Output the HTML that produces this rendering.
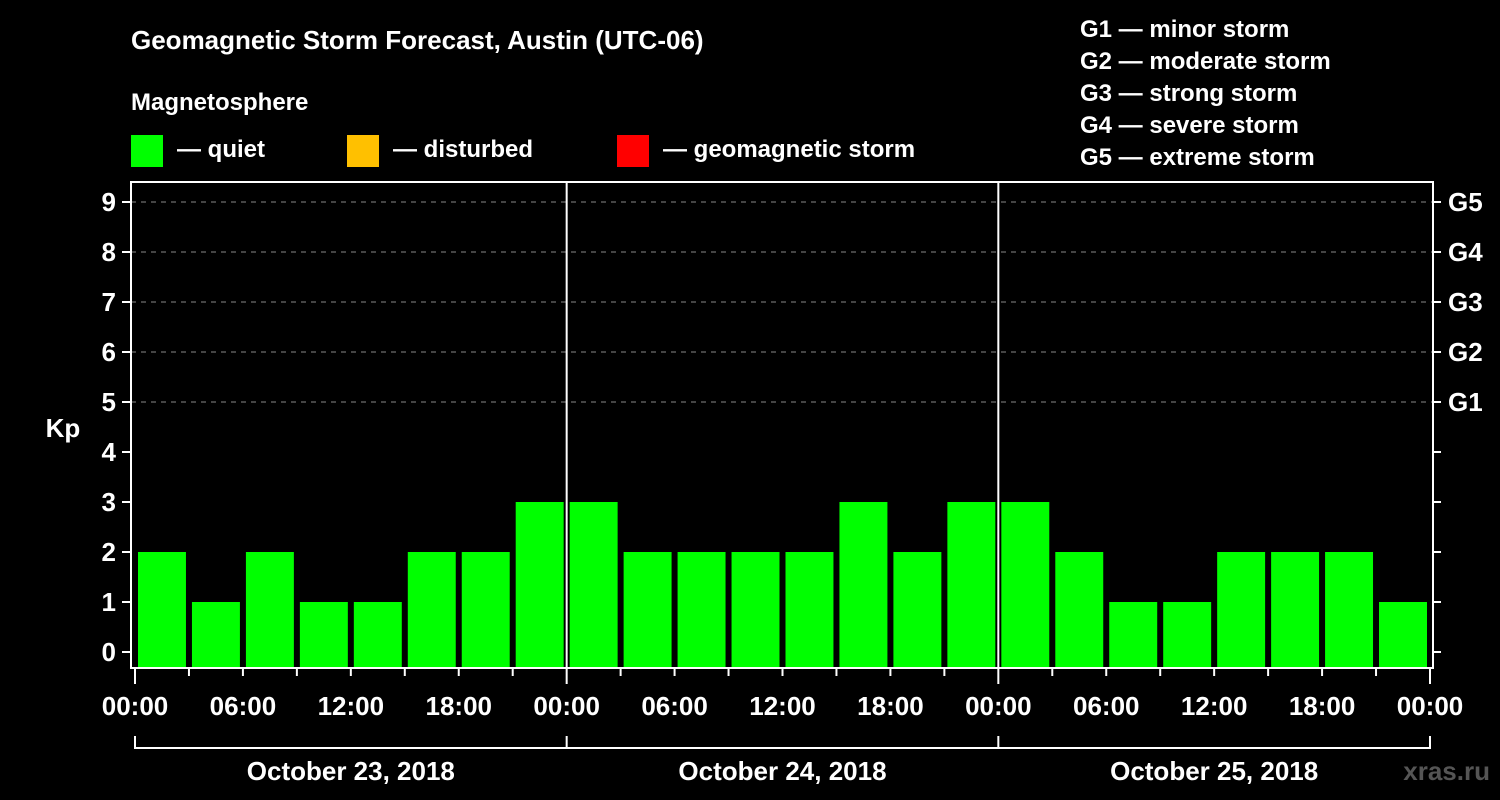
<!DOCTYPE html>
<html><head><meta charset="utf-8"><style>
body{margin:0;background:#000;width:1500px;height:800px;overflow:hidden}
svg{display:block;font-family:"Liberation Sans",Arial,sans-serif;font-weight:bold}
</style></head><body>
<svg id="c" width="1500" height="800" viewBox="0 0 1500 800">
<text x="131" y="49" fill="#fff" font-size="26">Geomagnetic Storm Forecast, Austin (UTC-06)</text>
<text x="131" y="110" fill="#fff" font-size="24">Magnetosphere</text>
<g><rect x="131" y="135" width="32" height="32" fill="#00ff00"/><text x="177" y="157" fill="#fff" font-size="24">— quiet</text></g>
<g><rect x="347" y="135" width="32" height="32" fill="#ffc000"/><text x="393" y="157" fill="#fff" font-size="24">— disturbed</text></g>
<g><rect x="617" y="135" width="32" height="32" fill="#ff0000"/><text x="663" y="157" fill="#fff" font-size="24">— geomagnetic storm</text></g>
<g fill="#fff" font-size="24">
<text x="1080" y="37">G1 — minor storm</text>
<text x="1080" y="69">G2 — moderate storm</text>
<text x="1080" y="101">G3 — strong storm</text>
<text x="1080" y="133">G4 — severe storm</text>
<text x="1080" y="165">G5 — extreme storm</text>
</g>
<text x="63" y="437" fill="#fff" font-size="26" text-anchor="middle">Kp</text>
<g id="grid"></g><g id="bars"></g><g id="axes"></g>
<text x="1490" y="780" fill="#555" font-size="26" text-anchor="end">xras.ru</text>
</svg>
<script>
const kp=[2,1,2,1,1,2,2,3, 3,2,2,2,2,3,2,3, 3,2,1,1,2,2,2,1];
const yTicks=[0,1,2,3,4,5,6,7,8,9];
const gLabels=["G1","G2","G3","G4","G5"];
const gLevels=[5,6,7,8,9];
const hourLabels=["00:00","06:00","12:00","18:00"];
const days=["October 23, 2018","October 24, 2018","October 25, 2018"];
const NS="http://www.w3.org/2000/svg";
const X0=135,PXH=17.986,Y0=652,PXK=50,LEFT=131,RIGHT=1433,TOP=182,BOT=668;
const x=h=>X0+h*PXH, y=k=>Y0-k*PXK;
function mk(p,t,a){const e=document.createElementNS(NS,t);for(const k in a)e.setAttribute(k,a[k]);p.appendChild(e);return e;}
const grid=document.getElementById('grid'),bars=document.getElementById('bars'),axes=document.getElementById('axes');
gLevels.forEach(v=>{const l=mk(grid,'line',{x1:LEFT,x2:RIGHT,y1:y(v),y2:y(v),stroke:'#888','stroke-width':1,'stroke-dasharray':'5,5'});

});
kp.forEach((v,i)=>{const r=mk(bars,'rect',{x:x(i*3)+3,y:y(v),width:3*PXH-6,height:BOT-y(v),fill:v>=5?'#ff0000':v>=4?'#ffc000':'#00ff00'});

});
const fr=mk(axes,'rect',{x:LEFT,y:TOP,width:RIGHT-LEFT,height:BOT-TOP,fill:'none',stroke:'#fff','stroke-width':2});


[1,2].forEach(d=>{const l=mk(axes,'line',{x1:x(d*24),x2:x(d*24),y1:TOP,y2:BOT,stroke:'#fff','stroke-width':2});

});
yTicks.forEach(v=>{mk(axes,'line',{x1:LEFT-9,x2:LEFT,y1:y(v),y2:y(v),stroke:'#fff','stroke-width':2});
mk(axes,'line',{x1:RIGHT,x2:RIGHT+8,y1:y(v),y2:y(v),stroke:'#fff','stroke-width':2});
const t=mk(axes,'text',{x:116,y:y(v)+9,fill:'#fff','font-size':26,'text-anchor':'end'});t.textContent=v;

});
gLevels.forEach((v,i)=>{const t=mk(axes,'text',{x:1448,y:y(v)+9,fill:'#fff','font-size':26});t.textContent=gLabels[i];

});
for(let h=0;h<=72;h+=3){mk(axes,'line',{x1:x(h),x2:x(h),y1:BOT,y2:BOT+(h%24==0?16:8),stroke:'#fff','stroke-width':2});}
for(let h=0;h<=72;h+=6){const t=mk(axes,'text',{x:x(h),y:715,fill:'#fff','font-size':26,'text-anchor':'middle'});t.textContent=hourLabels[(h/6)%4];

}
const br=mk(axes,'path',{d:`M${x(0)},736V748H${x(72)}V736M${x(24)},736V748M${x(48)},736V748`,fill:'none',stroke:'#fff','stroke-width':2});


days.forEach((d,i)=>{const t=mk(axes,'text',{x:x(i*24+12),y:780,fill:'#fff','font-size':26,'text-anchor':'middle'});t.textContent=d;

});
</script>
</body></html>
